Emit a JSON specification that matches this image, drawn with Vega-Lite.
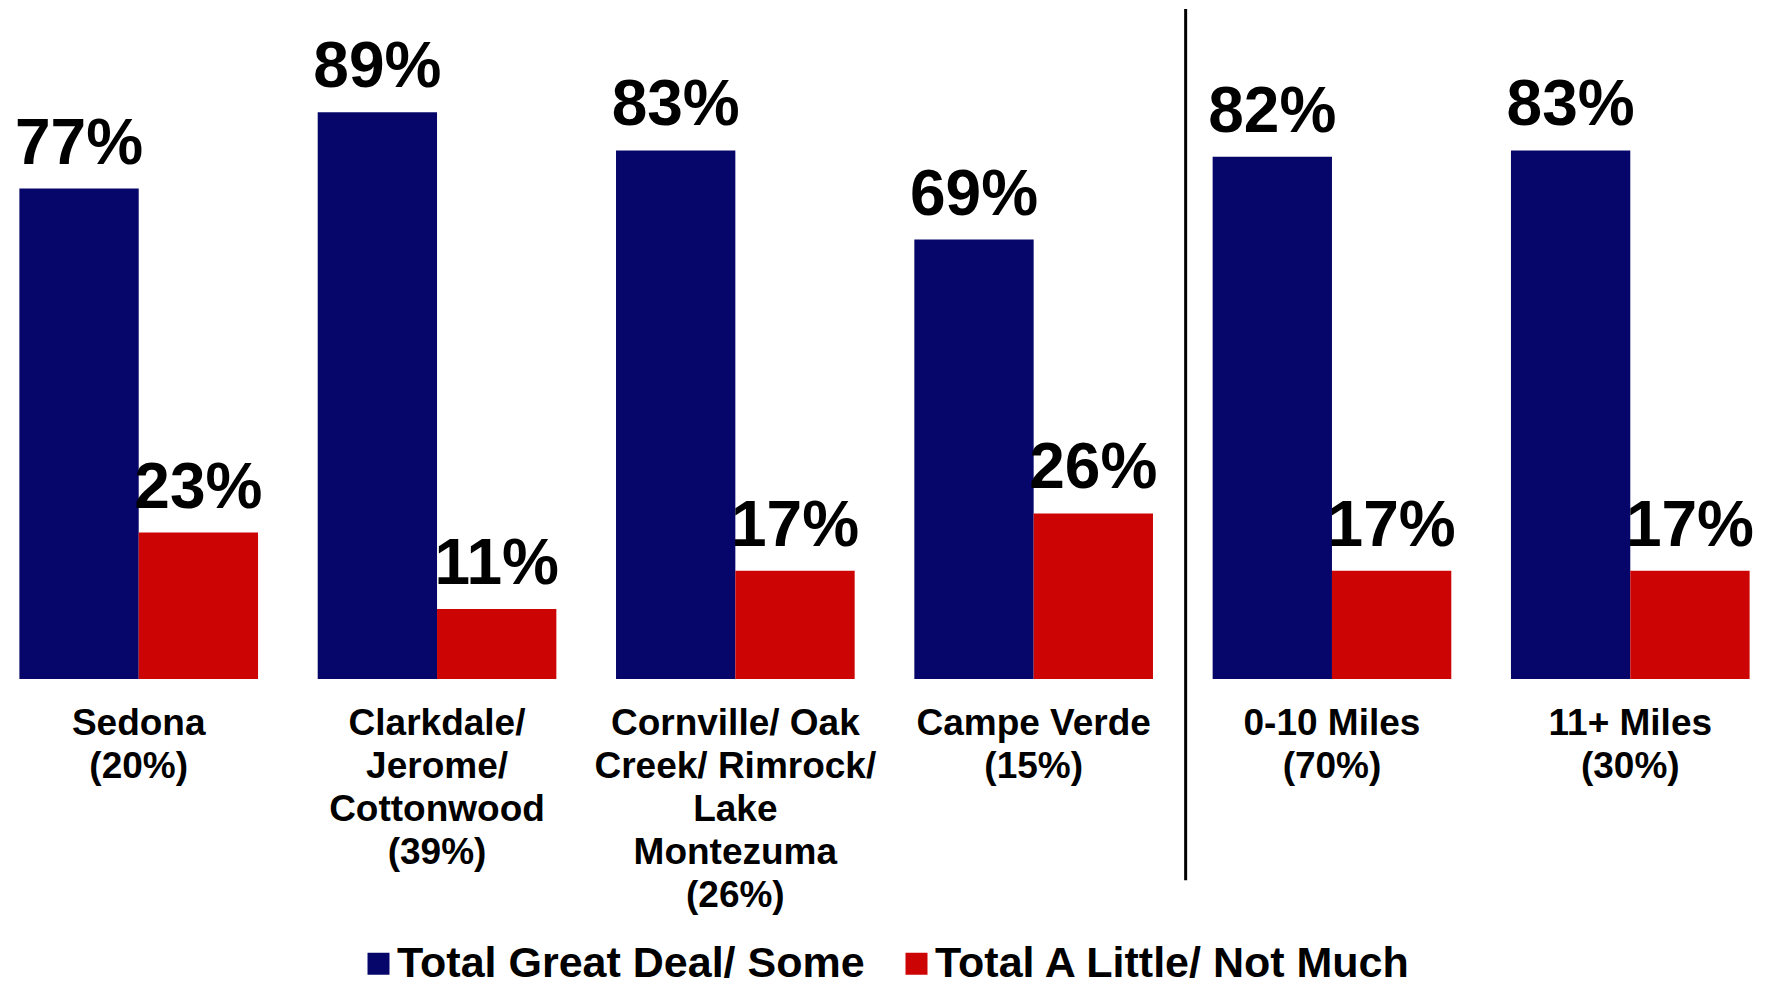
{
  "$schema": "https://vega.github.io/schema/vega-lite/v6.json",
  "width": 1769,
  "height": 670,
  "padding": {"left": 0, "right": 3, "top": 7, "bottom": 0},
  "background": "white",
  "config": {"view": {"stroke": null}, "font": "Liberation Sans"},
  "data": {
    "values": [
      {"group": "Sedona|(20%)", "series": "Total Great Deal/ Some", "value": 0.77},
      {"group": "Sedona|(20%)", "series": "Total A Little/ Not Much", "value": 0.23},
      {"group": "Clarkdale/|Jerome/|Cottonwood|(39%)", "series": "Total Great Deal/ Some", "value": 0.89},
      {"group": "Clarkdale/|Jerome/|Cottonwood|(39%)", "series": "Total A Little/ Not Much", "value": 0.11},
      {"group": "Cornville/ Oak|Creek/ Rimrock/|Lake|Montezuma|(26%)", "series": "Total Great Deal/ Some", "value": 0.83},
      {"group": "Cornville/ Oak|Creek/ Rimrock/|Lake|Montezuma|(26%)", "series": "Total A Little/ Not Much", "value": 0.17},
      {"group": "Campe Verde|(15%)", "series": "Total Great Deal/ Some", "value": 0.69},
      {"group": "Campe Verde|(15%)", "series": "Total A Little/ Not Much", "value": 0.26},
      {"group": "0-10 Miles|(70%)", "series": "Total Great Deal/ Some", "value": 0.82},
      {"group": "0-10 Miles|(70%)", "series": "Total A Little/ Not Much", "value": 0.17},
      {"group": "11+ Miles|(30%)", "series": "Total Great Deal/ Some", "value": 0.83},
      {"group": "11+ Miles|(30%)", "series": "Total A Little/ Not Much", "value": 0.17}
    ]
  },
  "layer": [
    {
      "mark": {"type": "bar"},
      "encoding": {
        "x": {
          "field": "group", "type": "nominal", "sort": null,
          "scale": {"paddingInner": 0.2, "paddingOuter": 0.065},
          "axis": {
            "title": null, "domain": false, "ticks": false, "grid": false,
            "labelAngle": 0, "labelFontSize": 37, "labelFontWeight": "bold",
            "labelFont": "Liberation Sans", "labelColor": "black",
            "labelPadding": 26, "labelLineHeight": 43, "labelLimit": 400,
            "labelOverlap": false,
            "labelExpr": "split(datum.label, '|')"
          }
        },
        "xOffset": {
          "field": "series", "type": "nominal",
          "sort": ["Total Great Deal/ Some", "Total A Little/ Not Much"],
          "scale": {"paddingInner": 0, "paddingOuter": 0}
        },
        "y": {
          "field": "value", "type": "quantitative",
          "scale": {"domain": [0, 1.052], "nice": false, "zero": true},
          "axis": null
        },
        "color": {
          "field": "series", "type": "nominal",
          "sort": ["Total Great Deal/ Some", "Total A Little/ Not Much"],
          "scale": {"domain": ["Total Great Deal/ Some", "Total A Little/ Not Much"], "range": ["#06066A", "#CC0404"]},
          "legend": {
            "orient": "none", "legendX": 357, "legendY": 933,
            "direction": "horizontal", "title": null,
            "symbolType": "square", "symbolSize": 484, "symbolStrokeWidth": 0,
            "labelFontSize": 43, "labelFontWeight": "bold", "labelFont": "Liberation Sans",
            "labelColor": "black", "labelOffset": -3, "columnPadding": 30,
            "labelLimit": 700, "padding": 0
          }
        }
      }
    },
    {
      "mark": {"type": "text", "baseline": "alphabetic", "align": "center", "dy": -25, "fontSize": 64, "fontWeight": "bold", "font": "Liberation Sans", "color": "black"},
      "encoding": {
        "x": {"field": "group", "type": "nominal", "sort": null},
        "xOffset": {"field": "series", "type": "nominal", "sort": ["Total Great Deal/ Some", "Total A Little/ Not Much"]},
        "y": {"field": "value", "type": "quantitative"},
        "text": {"field": "value", "type": "quantitative", "format": ".0%"}
      }
    },
    {
      "data": {"values": [{}]},
      "mark": {"type": "rule", "strokeWidth": 3, "color": "black", "xOffset": -27},
      "encoding": {
        "x": {"datum": "0-10 Miles|(70%)", "type": "nominal", "bandPosition": 0},
        "y": {"datum": 1.052, "type": "quantitative"},
        "y2": {"datum": -0.316}
      }
    }
  ]
}
